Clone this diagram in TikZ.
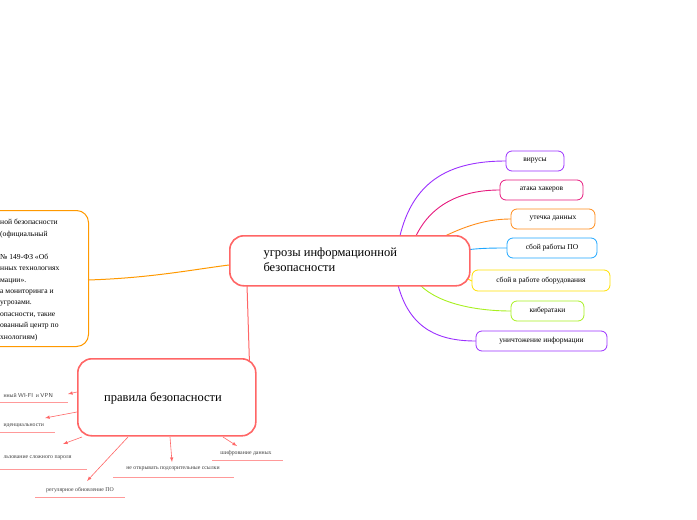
\documentclass[tikz,border=0pt]{standalone}
\usepackage{fontspec}
\setmainfont{Liberation Serif}
\begin{document}
\begin{tikzpicture}[x=1pt,y=-1pt,
 big/.style={draw=red!60!white,line width=1.6pt,rounded corners=14pt,fill=white,anchor=north west,inner sep=0pt},
 leaf/.style={draw=#1,line width=0.8pt,rounded corners=6pt,fill=white,font=\fontsize{7.5}{8}\selectfont,inner sep=0pt,minimum height=20pt},
 lab/.style={font=\fontsize{5.8}{6.5}\selectfont,text=black!75},
 ul/.style={draw=red!40!white,line width=1pt},
 ar/.style={draw=red!60!white,line width=0.6pt,-latex}]
\useasboundingbox (0,0) rectangle (697,520);
\definecolor{cpur}{HTML}{9B30FF}\definecolor{cmag}{HTML}{E6197E}\definecolor{corg}{HTML}{FF8C1A}
\definecolor{ccy}{HTML}{1EA7FF}\definecolor{cyel}{HTML}{FFE000}\definecolor{clime}{HTML}{A8F020}
% left box
\node[draw=orange!80!yellow,line width=1pt,rounded corners=12pt,minimum width=110pt,minimum height=136pt,anchor=north west,inner sep=0pt] (lb) at (-22,210) {};
\draw[orange!80!yellow,line width=1pt] (88,280) .. controls (150,278) and (190,270) .. (229,265);
\begin{scope}[every node/.style={anchor=west,font=\fontsize{7.6}{8.2}\selectfont,inner sep=0pt}]
\node (l1) at (0,222) {ной безопасности};
\node (l2) at (0,235) {(официальный};
\node (l4) at (0,257) {№ 149-ФЗ «Об};
\node (l5) at (0,269) {нных технологиях};
\node (l6) at (0,281) {мации».};
\node (l7) at (0,293) {а мониторинга и};
\node (l8) at (0,304) {угрозами.};
\node (l9) at (0,315) {опасности, такие};
\node (l10) at (0,326) {ованный центр по};
\node (l11) at (0,338) {хнологиям)};
\end{scope}
% right curves
\draw[cpur,line width=0.9pt] (398,245) .. controls (410,180) and (450,161) .. (506,161);
\draw[cmag,line width=0.9pt] (415,238) .. controls (430,205) and (460,190) .. (500,190);
\draw[corg,line width=0.9pt] (445,236) .. controls (470,224) and (490,219) .. (511,219);
\draw[ccy,line width=0.9pt] (466,250) .. controls (480,248) and (495,248) .. (507,248);
\draw[cyel,line width=0.9pt] (466,278) -- (472,281);
\draw[clime,line width=0.9pt] (420,285) .. controls (440,305) and (480,311) .. (511,311);
\draw[cpur,line width=0.9pt] (398,285) .. controls (410,330) and (440,341) .. (476,341);
\node[leaf=cpur,minimum width=58pt] (n1) at (535,161) {вирусы};
\node[leaf=cmag,minimum width=83pt] (n2) at (541.5,190) {атака хакеров};
\node[leaf=corg,minimum width=84pt] (n3) at (553,219) {утечка данных};
\node[leaf=ccy,minimum width=90pt] (n4) at (552,248) {сбой работы ПО};
\node[leaf=cyel,minimum width=138pt,minimum height=21pt] (n5) at (541,280.5) {сбой в работе оборудования};
\node[leaf=clime,minimum width=73pt] (n6) at (547.5,311) {кибератаки};
\node[leaf=cpur,minimum width=131pt] (n7) at (541.5,341) {уничтожение информации};
% main nodes
\draw[red!60!white,line width=1pt] (247,285) -- (250,380);
\node[big,minimum width=240pt,minimum height=50pt] (u) at (229,235) {};
\node[anchor=west,font=\fontsize{12.5}{15}\selectfont,align=left] at (260,260) {угрозы информационной\\безопасности};
\node[big,minimum width=178pt,minimum height=77pt] (p) at (77,358) {};
\node[font=\fontsize{12.5}{15}\selectfont] at (163,398) {правила безопасности};
% rules
\node[lab,anchor=west] (r1) at (0,395) {нный \textsf{WI-FI}\ \ и \textsf{VPN}};
\draw[ul] (0,402) -- (68,402);
\draw[ar] (77,392) -- (68,394);
\node[lab,anchor=west] (r2) at (0,426) {иденциальности};
\draw[ul] (0,432) -- (55,432);
\draw[ar] (77,412) -- (45,418);
\node[lab,anchor=west] (r3) at (0,458) {льзование сложного пароля};
\draw[ul] (0,469) -- (87,469);
\draw[ar] (82,437) -- (63,444);
\node[lab] (r4) at (80,490) {регулярное обновление ПО};
\draw[ul] (35,497) -- (125,497);
\draw[ar] (128,437) -- (87,481);
\node[lab] (r5) at (173,469) {не открывать подозрительные ссылки};
\draw[ul] (113,477) -- (234,477);
\draw[ar] (170,437) -- (172,462);
\node[lab] (r6) at (246,453) {шифрование данных};
\draw[ul] (212,460) -- (283,460);
\draw[ar] (223,437) -- (237,446);
\end{tikzpicture}
\end{document}
